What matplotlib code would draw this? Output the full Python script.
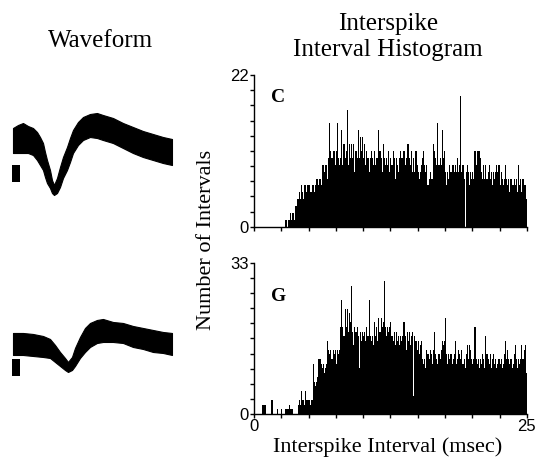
import numpy as np
import matplotlib.pyplot as plt
from matplotlib.ticker import NullFormatter

plt.rcParams['font.family'] = ['Liberation Serif', 'DejaVu Serif']

# interspike interval histograms, 0.1 msec bins from 0 to 25 msec
bin_width = 0.1
isi_c = [
    0, 0, 0, 0, 0, 0, 0, 0, 0, 0,
    0, 0, 0, 0, 0, 0, 0, 0, 0, 0,
    0, 0, 0, 0, 0, 0, 0, 0, 1, 1,
    0, 1, 1, 2, 1, 2, 2, 1, 3, 4,
    4, 5, 4, 6, 5, 4, 6, 6, 5, 6,
    6, 5, 5, 6, 6, 5, 6, 7, 7, 6,
    7, 6, 9, 9, 8, 9, 9, 7, 10, 15,
    11, 10, 11, 11, 9, 11, 15, 10, 9, 10,
    14, 9, 12, 10, 11, 17, 9, 12, 10, 12,
    10, 12, 8, 11, 10, 14, 10, 13, 11, 13,
    10, 12, 9, 11, 10, 8, 10, 11, 10, 9,
    11, 9, 10, 10, 14, 11, 10, 8, 12, 10,
    9, 10, 9, 11, 8, 10, 9, 11, 10, 7,
    10, 9, 8, 10, 11, 10, 10, 11, 9, 10,
    12, 12, 10, 9, 11, 8, 10, 8, 11, 9,
    8, 7, 8, 9, 10, 11, 9, 8, 9, 6,
    7, 8, 7, 7, 12, 11, 10, 9, 15, 9,
    10, 9, 14, 10, 11, 8, 6, 8, 7, 9,
    8, 9, 9, 8, 9, 8, 10, 8, 9, 19,
    8, 9, 7, 0, 8, 9, 8, 6, 8, 7,
    8, 7, 11, 9, 11, 11, 11, 10, 8, 7,
    9, 7, 9, 7, 8, 9, 7, 8, 6, 8,
    7, 8, 9, 8, 9, 6, 8, 7, 6, 7,
    9, 7, 6, 7, 5, 7, 6, 6, 7, 6,
    7, 5, 9, 6, 7, 5, 7, 6, 6, 4,
]
isi_g = [
    0, 0, 0, 0, 0, 0, 0, 2, 2, 2,
    2, 0, 0, 0, 0, 0, 3, 0, 0, 0,
    0, 1, 0, 0, 0, 1, 0, 0, 1, 1,
    1, 1, 2, 1, 1, 1, 0, 0, 0, 0,
    2, 3, 2, 5, 3, 3, 2, 5, 3, 3,
    3, 2, 3, 3, 11, 7, 6, 7, 8, 12,
    12, 11, 10, 11, 9, 10, 11, 16, 14, 13,
    14, 12, 14, 13, 14, 11, 14, 13, 14, 19,
    25, 19, 17, 23, 19, 23, 18, 22, 20, 28,
    18, 15, 19, 18, 19, 17, 10, 18, 16, 18,
    17, 18, 16, 19, 17, 25, 17, 16, 17, 15,
    20, 17, 19, 16, 21, 18, 21, 19, 20, 29,
    19, 17, 19, 18, 19, 20, 17, 16, 18, 15,
    18, 16, 17, 15, 17, 16, 17, 20, 17, 14,
    18, 16, 18, 15, 17, 18, 4, 17, 16, 14,
    16, 13, 15, 16, 12, 11, 12, 10, 14, 13,
    12, 14, 13, 11, 14, 18, 13, 12, 11, 13,
    12, 14, 16, 15, 16, 21, 13, 11, 13, 12,
    13, 11, 12, 13, 16, 11, 12, 14, 13, 12,
    14, 11, 12, 10, 13, 15, 12, 15, 14, 12,
    11, 12, 19, 12, 11, 12, 10, 12, 11, 13,
    12, 10, 17, 13, 12, 11, 13, 10, 12, 13,
    11, 12, 10, 11, 12, 11, 12, 10, 11, 13,
    16, 12, 14, 12, 11, 12, 10, 11, 13, 15,
    12, 10, 12, 11, 12, 15, 12, 14, 15, 9,
]
ymax_c = 22
ymax_g = 33

# waveform envelopes (spread of all overlaid spikes), time in ms, amplitude in uV
t_c = [0.00, 0.05, 0.10, 0.15, 0.20, 0.24, 0.27, 0.30, 0.32, 0.34, 0.37,
       0.39, 0.41, 0.44, 0.47, 0.50, 0.54, 0.57, 0.60, 0.65, 0.70, 0.77,
       0.84, 0.90, 1.00, 1.10, 1.20, 1.30, 1.40, 1.50, 1.59]
hi_c = [72, 90, 102, 84, 72, 48, 18, -18, -72, -120, -180,
        -240, -270, -228, -162, -102, -42, 12, 60, 108, 138, 156,
        162, 150, 132, 102, 78, 54, 36, 18, 6]
lo_c = [-78, -78, -78, -78, -90, -120, -150, -180, -222, -258, -288,
        -318, -330, -318, -282, -228, -180, -132, -78, -30, 0, 18,
        12, 0, -18, -48, -78, -102, -120, -138, -150]

t_g = [0.00, 0.10, 0.20, 0.30, 0.37, 0.42, 0.47, 0.52, 0.55, 0.59, 0.62,
       0.67, 0.72, 0.77, 0.84, 0.90, 1.00, 1.10, 1.20, 1.30, 1.40, 1.50, 1.59]
hi_g = [66, 66, 60, 48, 30, -6, -48, -84, -108, -78, -24,
        42, 96, 126, 144, 150, 132, 126, 108, 96, 84, 72, 66]
lo_g = [-66, -66, -72, -78, -84, -108, -132, -156, -168, -156, -132,
        -84, -48, -18, 6, 12, 12, 6, -18, -30, -48, -54, -66]

scale_bar = 100  # uV


def draw_isi(ax, counts, ymax, letter, letter_y, show_labels):
    edges = np.arange(len(counts) + 1) * bin_width
    ax.stairs(counts, edges, fill=True, color='black', linewidth=0)
    ax.set_xlim(0, 25)
    ax.set_ylim(0, ymax)
    for side in ['top', 'right']:
        ax.spines[side].set_visible(False)
    for side in ['left', 'bottom']:
        ax.spines[side].set_linewidth(1.0)
    ax.set_yticks([0, ymax])
    ax.set_yticks(np.linspace(0, ymax, 11), minor=True)
    ax.yaxis.set_minor_formatter(NullFormatter())
    ax.set_xticks([0, 25])
    ax.set_xticks(np.arange(0, 25.1, 2.5), minor=True)
    ax.xaxis.set_minor_formatter(NullFormatter())
    if not show_labels:
        ax.set_xticklabels([])
    ax.tick_params(which='both', direction='out', length=3, width=1, pad=1,
                   labelsize=12)
    for lab in ax.get_xticklabels() + ax.get_yticklabels():
        lab.set_family('Liberation Sans')
    ax.text(0.064, letter_y, letter, transform=ax.transAxes, fontsize=14,
            fontweight='bold', va='center', ha='left')


def draw_wave(ax, t, hi, lo, bar_top, ylim):
    ax.fill_between(t, lo, hi, color='black', linewidth=0.8, edgecolor='black')
    ax.bar(0.03, scale_bar, width=0.08, bottom=bar_top - scale_bar, color='black')
    ax.set_xlim(-0.13, 1.87)
    ax.set_ylim(*ylim)
    ax.axis('off')


fig = plt.figure(figsize=(5.37, 4.63), dpi=100)

ax_c = fig.add_axes([0.473, 0.510, 0.508, 0.328])
draw_isi(ax_c, isi_c, ymax_c, 'C', 0.85, False)
ax_g = fig.add_axes([0.473, 0.106, 0.508, 0.326])
draw_isi(ax_g, isi_g, ymax_g, 'G', 0.78, True)

wv_c = fig.add_axes([0.0, 0.5464, 0.3724, 0.2376])
draw_wave(wv_c, t_c, hi_c, lo_c, -150, (-420, 240))
wv_g = fig.add_axes([0.0, 0.1145, 0.3724, 0.2376])
draw_wave(wv_g, t_g, hi_g, lo_g, -90, (-396, 264))

fig.text(0.188, 0.912, 'Waveform', fontsize=18, ha='center', va='center')
fig.text(0.722, 0.948, 'Interspike', fontsize=18, ha='center', va='center')
fig.text(0.722, 0.892, 'Interval Histogram', fontsize=18, ha='center', va='center')
fig.text(0.385, 0.482, 'Number of Intervals', fontsize=16, rotation=90,
         ha='center', va='center')
fig.text(0.722, 0.035, 'Interspike Interval (msec)', fontsize=16,
         ha='center', va='center')

fig.savefig('out.png', dpi=100)
